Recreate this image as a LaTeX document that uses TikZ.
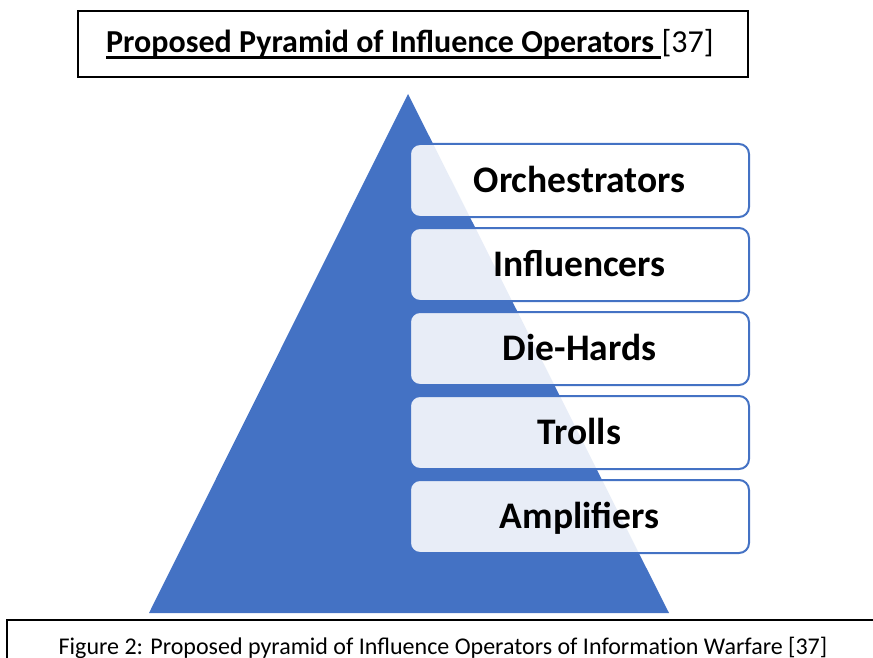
\documentclass[tikz,border=0pt]{standalone}
\usepackage{fontspec}
\setmainfont{Carlito}
\definecolor{pyrblue}{HTML}{4472C4}
\tikzset{
  tierbox/.style={draw=pyrblue, line width=2pt, fill=white, fill opacity=0.88, draw opacity=1, text opacity=1,
    rounded corners=10pt, minimum width=339pt, minimum height=73pt, inner sep=0pt,
    font=\fontsize{37.5}{42}\selectfont\bfseries, text=black, text height=24.2pt, text depth=0pt},
  framebox/.style={draw=black, line width=1.4pt},
  titletext/.style={anchor=base west, inner sep=0pt, font=\fontsize{32}{36}\selectfont}
}
\begin{document}
\begin{tikzpicture}[x=1pt,y=-1pt]
\useasboundingbox (0,0) rectangle (873,658);
\clip (0,0) rectangle (873,658);
% title
\draw[framebox] (78,11) rectangle (748,77);
\node[titletext] (titleA) at (106,53) {\textbf{Proposed Pyramid of Influence Operators}\kern7pt};
\node[titletext] (titleB) at (titleA.base east) {[37]};
\draw[line width=2.4pt] ([yshift=-4.5pt]titleA.base west) -- ([yshift=-4.5pt]titleA.base east);
% pyramid
\fill[pyrblue] (408,94) -- (669,613) -- (149,613) -- cycle;
% tiers
\node[tierbox] (t1) at (579.5,180.5) {Orchestrators};
\node[tierbox] (t2) at (579.5,264.5) {Influencers};
\node[tierbox] (t3) at (579.5,348.5) {Die-Hards};
\node[tierbox] (t4) at (579.5,432.5) {Trolls};
\node[tierbox] (t5) at (579.5,516.5) {Amplifiers};
% caption
\draw[framebox] (7,700) -- (7,620) -- (890,620);
\node[anchor=base, inner sep=0pt, font=\fontsize{24}{28}\selectfont] (cap) at (443,654)
  {Figure 2: Proposed pyramid of Influence Operators of Informat\kern0pt ion Warfare [37]};
\end{tikzpicture}
\end{document}
